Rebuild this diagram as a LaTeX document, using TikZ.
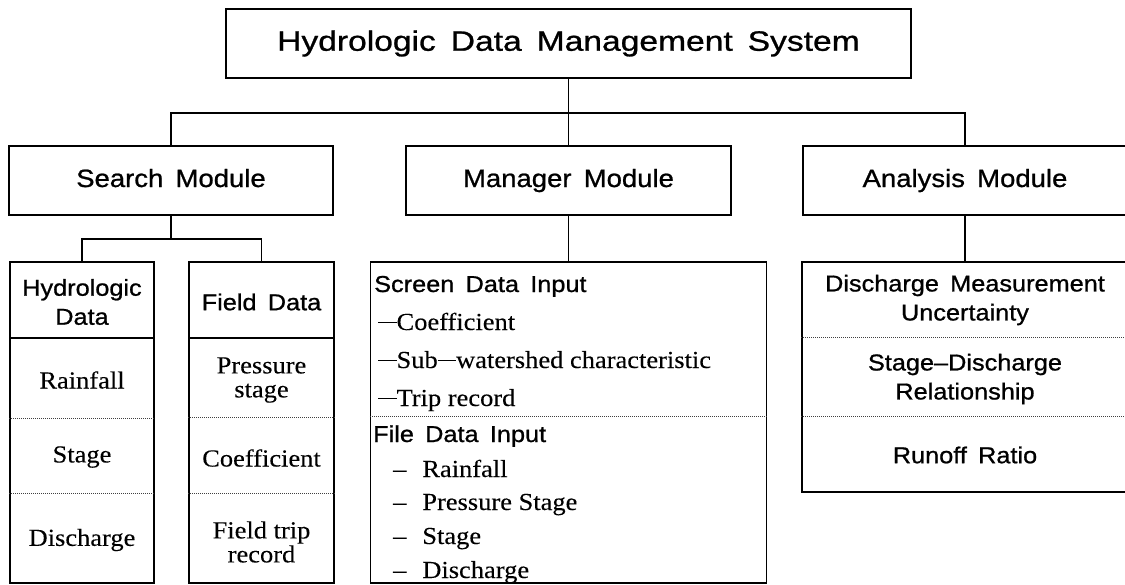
\documentclass[tikz,border=0pt]{standalone}
\usepackage{fontspec}
\setmainfont[FakeStretch=1.08,FakeBold=0.15]{Liberation Serif}
\newfontfamily\hsans[FakeStretch=1.1,WordSpace=1.6,FakeBold=0.9]{Liberation Sans}
\newfontfamily\tsans[FakeStretch=1.2,WordSpace=1.6,FakeBold=0.9]{Liberation Sans}
\newcommand{\ldash}{\rule[0.28em]{0.75em}{0.04em}}
\begin{document}
\begin{tikzpicture}[x=1pt,y=-1pt,
  box/.style={draw, line width=1.1pt, inner sep=0pt, rectangle},
  modbox/.style={box, minimum width=324pt, minimum height=69pt, text height=18pt, text depth=5pt, font=\hsans\fontsize{25}{30}\selectfont},
  head/.style={inner sep=0pt, align=center, font=\hsans\fontsize{23}{29}\selectfont},
  item/.style={inner sep=0pt, align=center, font=\fontsize{24.5}{24}\selectfont},
  lhead/.style={inner sep=0pt, anchor=base west, font=\hsans\fontsize{23}{28}\selectfont},
  litem/.style={inner sep=0pt, anchor=base west, font=\fontsize{24.5}{28}\selectfont},
  link/.style={line width=1.1pt},
  divider/.style={line width=0.7pt, black!75, dash pattern=on 1pt off 1pt}]
\useasboundingbox (0,0) rectangle (1125,584);

% top
\node[box, minimum width=685pt, minimum height=69pt, font=\tsans\fontsize{28}{34}\selectfont] (title) at (568.5,43.5) {Hydrologic Data Management System};

% modules
\node[modbox] (search) at (171,180.5) {Search Module};
\node[modbox, minimum width=325pt] (manager) at (568.5,180.5) {Manager Module};
\node[modbox] (analysis) at (965,180.5) {Analysis Module};

\coordinate (bus) at (568.5,113);
\draw[link] (title.south) -- (manager.north);
\draw[link] (search.north) |- (bus) -| (analysis.north);

% search subtree
\node[box, minimum width=144pt, minimum height=321pt] (hyd) at (82,422.5) {};
\node[box, minimum width=145pt, minimum height=321pt] (field) at (261.5,422.5) {};
\coordinate (sbus) at (171,239);
\draw[link] (search.south) -- (sbus);
\draw[link] (hyd.north) |- (sbus) -| (field.north);

\draw[link] (hyd.west |- 0,338) -- (hyd.east |- 0,338);
\draw[divider] (hyd.west |- 0,418) -- (hyd.east |- 0,418);
\draw[divider] (hyd.west |- 0,493) -- (hyd.east |- 0,493);
\draw[link] (field.west |- 0,338) -- (field.east |- 0,338);
\draw[divider] (field.west |- 0,417) -- (field.east |- 0,417);
\draw[divider] (field.west |- 0,493) -- (field.east |- 0,493);

\node[head] (hydh) at (82,302) {Hydrologic\\Data};
\node[item] (hyd1) at (82,380) {Rainfall};
\node[item] (hyd2) at (82,457) {Stage};
\node[item] (hyd3) at (82,540) {Discharge};

\node[head] (fieldh) at (261.5,302) {Field Data};
\node[item] (field1) at (261.5,380) {Pressure\\stage};
\node[item] (field2) at (261.5,458) {Coefficient};
\node[item] (field3) at (261.5,542) {Field trip\\record};

% manager subtree
\node[box, minimum width=396pt, minimum height=321pt] (mgr) at (568.5,422.5) {};
\draw[link] (manager.south) -- (mgr.north);
\draw[divider] (mgr.west |- 0,416) -- (mgr.east |- 0,416);

\node[lhead] (s0) at (374,292) {Screen Data Input};
\node[litem] (s1) at (378,330) {\ldash Coefficient};
\node[litem] (s2) at (378,368) {\ldash Sub\ldash watershed characteristic};
\node[litem] (s3) at (378,406) {\ldash Trip record};
\node[lhead] (f0) at (373,442) {File Data Input};
\node[litem] (f1) at (393,477) {–\hspace{0.65em}Rainfall};
\node[litem] (f2) at (393,510) {–\hspace{0.65em}Pressure Stage};
\node[litem] (f3) at (393,544) {–\hspace{0.65em}Stage};
\node[litem] (f4) at (393,578) {–\hspace{0.65em}Discharge};

% analysis subtree
\node[box, minimum width=326pt, minimum height=230pt] (ana) at (965,377) {};
\draw[link] (analysis.south) -- (ana.north);
\draw[divider] (ana.west |- 0,337) -- (ana.east |- 0,337);
\draw[divider] (ana.west |- 0,416) -- (ana.east |- 0,416);

\node[head] (a1) at (965,300) {Discharge Measurement\\Uncertainty};
\node[head] (a2) at (965,379) {Stage–Discharge\\Relationship};
\node[head] (a3) at (965,455) {Runoff Ratio};
\end{tikzpicture}
\end{document}
